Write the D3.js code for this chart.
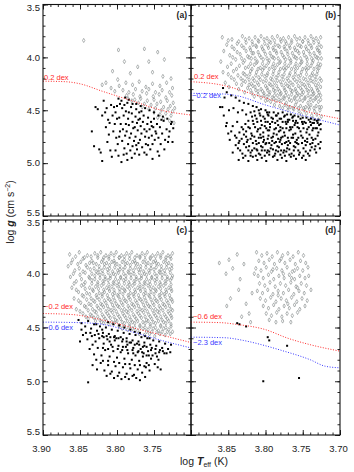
<!DOCTYPE html>
<html>
<head>
<meta charset="utf-8">
<script src="https://cdn.jsdelivr.net/npm/d3@7"></script>
<style>
body{margin:0;background:#fff}
text{font-family:"Liberation Sans",Arial,sans-serif}
</style>
</head>
<body>
<svg id="chart"></svg>
<script>
// stars: [a, b] means log Teff = 3 + a/1000, log g = b/100
const grayA = [[845,384],[798,393],[763,392],[745,395],[790,404],[757,404],[772,409],[736,402],[806,413],[782,415],[752,414],[738,418],[727,420],[815,424],[799,421],
[820,426],[808,429],[797,427],[788,424],[779,426],[770,423],[761,428],[752,425],[742,427],[733,424],[725,429],[803,432],[792,431],[784,433],[775,430],[766,432],[757,430],[748,433],[739,431],[729,433],[787,436],[778,435],[769,437],[760,434],[751,437],[743,435],[734,438],[726,436],
[785,439],[776,440],[768,439],[759,441],[750,440],[741,442],[732,441],[724,443],[780,441],[771,443],[763,444],[754,445],[746,444],[737,447],[728,446],[722,448],[766,447],[757,449],[748,448],[740,450],[731,449],[725,451],[750,452],[742,454],[734,453],[727,455],[745,457],[737,458],[729,460],[723,462]]
const blackA = [[834,470],[831,484],[824,487],[820,498],[829,447],[826,449],[818,441],[816,452],[812,459],[815,466],[811,473],[813,480],[809,488],[807,494],[810,462],[806,455],[804,447],[802,452],[800,446],[803,463],[805,470],[801,476],[799,482],[802,488],[798,493],[794,499],[796,444],[793,448],[797,457],[795,463],[791,455],[790,445],[788,451],[792,468],[789,474],[793,479],[790,486],[787,491],[786,443],[785,458],[784,464],[787,470],[783,476],[785,482],[782,488],[780,453],[781,447],[779,461],[778,467],[781,472],[777,479],[779,484],[776,491],[775,456],[774,449],[773,462],[772,469],[775,475],[771,481],[773,487],[770,452],[769,458],[768,465],[767,472],[769,478],[766,485],[765,461],[764,455],[763,468],[762,475],[760,470],[761,482],[759,463],[758,457],[757,476],[756,468],[755,487],[754,461],[753,474],[752,482],[751,466],[750,458],[749,478],[748,470],[746,463],[745,489],[744,476],[742,466],[741,482],[739,472],[737,460],[735,478],[733,468],[731,480],[729,470],[727,463],[725,480],
[798,439],[794,441],[789,438],[784,440],[779,444],[774,444],[768,446],[762,448],[756,450],[750,452],[744,455],[738,456],[732,458],[726,461],[808,445],[814,448],[820,455],[800,458],[796,470],[788,463],[784,452],[776,466],[771,459],[767,451],[763,490],[758,483],[753,465],[747,472],[740,459],[736,487],[730,475],[724,467],[822,490],[797,475],[791,492],[786,497],[780,495],[774,483],[770,492],[760,492],[752,496],[743,493]]

const grayB = [[858,381],[845,383],[831,380],[822,382],[814,381],[806,380],[798,382],[791,381],[784,380],[776,382],[769,381],[761,380],[754,382],[747,381],[739,380],[732,382],[726,381],
[852,388],[838,387],[826,386],[817,388],[809,385],[801,387],[793,386],[787,388],[779,385],[772,387],[765,386],[757,388],[750,385],[742,387],[735,386],[728,388],
[856,394],[842,392],[829,391],[820,393],[812,390],[804,392],[796,391],[789,393],[781,390],[774,392],[767,391],[760,393],[752,390],[745,392],[738,391],[730,393],[725,390],
[848,398],[834,397],[824,399],[816,396],[808,398],[800,397],[792,399],[785,396],[777,398],[770,397],[762,399],[755,396],[748,398],[740,397],[733,399],[727,396],
[860,404],[840,402],[828,403],[819,401],[811,404],[803,402],[795,403],[788,401],[780,404],[773,402],[766,403],[758,401],[751,404],[744,402],[736,403],[729,401],
[851,409],[835,408],[823,409],[815,407],[807,410],[799,408],[791,409],[784,407],[776,410],[769,408],[761,409],[754,407],[746,410],[739,408],[731,409],[726,407],
[857,414],[843,413],[830,415],[820,413],[812,414],[804,412],[797,415],[789,413],[782,414],[774,412],[767,415],[760,413],[752,414],[745,412],[737,415],[730,413],
[846,419],[833,420],[825,418],[817,420],[809,419],[801,418],[793,420],[786,419],[778,418],[771,420],[763,419],[756,418],[749,420],[741,419],[734,418],[727,420],
[854,424],[839,425],[827,423],[819,425],[811,424],[803,423],[795,425],[788,424],[780,423],[773,425],[766,424],[758,423],[751,425],[743,424],[736,423],[729,425],
[849,428],[836,430],[824,429],[814,428],[806,430],[798,429],[790,428],[783,430],[775,429],[768,428],[760,430],[753,429],[746,428],[738,430],[731,429],[726,428],
[828,433],[818,434],[810,432],[802,434],[794,433],[787,432],[779,434],[772,433],[764,432],[757,434],[749,433],[742,432],[735,434],[728,433],
[815,437],[806,438],[798,437],[791,438],[784,436],[776,438],[769,437],[761,438],[754,436],[747,438],[739,437],[732,438],[726,436],
[800,441],[793,442],[786,441],[779,441],[772,443],[765,441],[758,442],[750,441],[743,443],[736,441],[729,442],
[788,445],[781,446],[774,445],[767,447],[760,445],[753,446],[746,447],[739,445],[732,446],[725,447],
[770,450],[762,449],[755,451],[748,450],[741,449],[734,451],[727,450],[752,454],[745,453],[738,455],[731,454],[725,456],[736,458],[729,459],
[850,384],[836,385],[827,383],[818,385],[810,384],[802,383],[795,385],[788,384],[780,383],[773,385],[765,384],[758,383],[750,385],[743,384],[736,383],[729,385],
[845,390],[832,389],[821,391],[813,389],[805,390],[797,389],[790,391],[783,389],[775,390],[768,389],[761,391],[754,389],[746,390],[739,389],[731,391],
[838,395],[826,394],[818,396],[810,395],[802,394],[794,396],[786,394],[779,395],[771,394],[764,396],[757,394],[749,395],[742,394],[735,396],[728,394],
[844,400],[832,401],[822,400],[814,401],[806,400],[798,401],[790,400],[783,401],[775,400],[768,401],[760,400],[753,401],[745,400],[738,401],[731,400],[725,401],
[846,406],[830,405],[820,406],[812,405],[804,406],[796,405],[789,406],[781,405],[774,406],[766,405],[759,406],[752,405],[744,406],[737,405],[729,406],
[839,411],[827,410],[818,411],[810,411],[802,410],[795,411],[787,410],[780,411],[772,410],[765,411],[757,410],[750,411],[742,410],[735,411],[728,410],
[850,416],[837,417],[828,416],[821,416],[813,417],[805,416],[798,417],[790,416],[783,417],[775,416],[768,417],[760,416],[753,417],[745,416],[738,417],[731,416],
[842,421],[830,422],[822,421],[815,422],[807,421],[799,422],[791,421],[784,422],[776,421],[769,422],[761,421],[754,422],[746,421],[739,422],[732,421],[725,422],
[832,426],[822,426],[817,427],[809,426],[800,427],[793,426],[785,427],[778,426],[770,427],[763,426],[756,427],[748,426],[741,427],[733,426],
[820,431],[813,431],[804,432],[797,431],[789,431],[781,432],[774,431],[766,431],[759,432],[751,431],[744,431],[737,432],[730,431],
[810,435],[802,436],[795,435],[788,436],[780,435],[773,436],[765,435],[758,436],[751,435],[743,436],[736,435],[729,436],
[797,440],[789,439],[782,440],[775,439],[768,440],[761,439],[754,440],[747,439],[740,440],[733,439],[726,440],
[777,448],[770,447],[763,448],[756,448],[749,448],[742,447],[735,448],[728,447]]
const blackB = [[857,429],[852,433],[846,436],[840,438],[835,441],[829,443],[823,444],[817,446],[812,447],[806,449],[800,450],[795,452],
[858,447],[849,450],[843,448],[837,452],[831,450],[826,454],[820,452],[814,455],[808,453],[803,456],[797,454],[792,457],[786,455],[781,458],[775,456],[770,459],[764,457],[759,460],[753,458],[748,461],[742,459],[737,462],[731,460],[726,463],
[818,456],[812,458],[807,455],[801,458],[796,455],[790,458],[785,455],[779,458],[774,455],[768,459],[763,456],
[852,462],[844,465],[838,461],[832,466],[827,463],[821,467],[816,463],[810,468],[805,464],[799,467],[794,463],[788,468],[783,464],[777,467],[772,463],[766,468],[761,464],[755,467],[750,463],[744,468],[739,464],[733,467],[728,464],
[846,470],[835,471],[826,470],[819,472],[811,470],[803,471],[797,469],[789,472],[782,470],[775,471],[768,469],[760,472],[753,470],[745,471],[737,469],[729,471],
[848,478],[841,474],[835,479],[829,473],[824,478],[818,474],[813,479],[807,473],[802,478],[796,474],[791,479],[785,473],[780,478],[774,474],[769,479],[763,473],[758,478],[752,474],[747,479],[741,473],[736,478],[730,474],[726,480],
[840,483],[829,482],[822,484],[812,482],[806,484],[800,482],[792,483],[784,484],[778,482],[770,483],[762,484],[756,482],[746,483],[740,482],[733,484],
[844,490],[837,486],[831,491],[826,485],[820,490],[815,486],[809,491],[804,485],[798,490],[793,486],[787,491],[782,485],[776,490],[771,486],[765,491],[760,485],[754,490],[749,486],[743,491],[738,485],[732,490],[727,486],
[836,497],[830,495],[823,498],[817,494],[811,497],[805,495],[799,498],[790,494],[784,497],[778,495],[772,498],[766,494],[759,496],[751,495],[746,497],
[861,447],[856,455],[853,465],[850,472],[855,438],
[800,461],[794,466],[787,462],[780,466],[773,461],[767,466],[760,462],[806,476],[799,481],[792,476],[786,480],[779,476],[772,480],[765,476],[758,481],[812,487],[805,488],[797,488],[790,487],[783,489],[775,488],[768,487],
[815,451],[809,450],[798,452],[789,452],[783,453],[777,452],[771,454],[766,454],[761,455],[756,456],[750,457],[745,457],[739,458],[734,459],[729,459],
[823,460],[817,460],[811,461],[806,460],[797,461],[791,461],[784,460],[777,461],[770,461],[763,460],[757,462],[751,461],[746,462],[740,461],[735,462],[730,462],
[830,468],[823,466],[814,466],[807,467],[801,465],[795,469],[786,467],[780,469],[772,467],[764,466],[757,466],[749,467],[742,466],[736,467],[731,467],[726,468],
[839,476],[832,477],[826,475],[820,477],[815,475],[809,476],[803,475],[797,477],[790,475],[783,477],[777,475],[770,476],[763,476],[756,476],[750,476],[744,477],[738,476],[733,477],
[836,481],[825,480],[817,481],[809,481],[803,480],[795,481],[788,481],[781,480],[774,481],[767,481],[760,480],[751,481],[744,480],[737,481],[729,482],
[834,488],[823,488],[818,488],[811,488],[801,488],[795,489],[786,488],[779,488],[772,489],[762,488],[756,488],[746,489],[740,488],[734,487],
[827,493],[820,493],[813,493],[807,492],[801,493],[795,492],[788,493],[780,492],[774,493],[768,492],[762,493],[755,492],[749,493],[741,493]]

const grayC = [[864,382],[851,380],[840,383],[830,381],[822,380],[815,383],[808,381],[801,380],[794,383],[787,381],[780,380],[773,383],[766,381],[759,380],[752,383],[745,381],[738,380],[731,383],[725,381],
[860,387],[846,386],[834,388],[826,385],[819,387],[811,386],[804,388],[797,385],[790,387],[783,386],[776,388],[769,385],[762,387],[755,386],[748,388],[741,385],[734,387],[727,386],
[866,393],[853,391],[842,392],[832,390],[824,393],[817,391],[810,392],[803,390],[796,393],[789,391],[782,392],[775,390],[768,393],[761,391],[754,392],[747,390],[740,393],[733,391],[726,392],
[857,397],[846,398],[836,396],[828,398],[820,397],[813,396],[806,398],[799,397],[792,396],[785,398],[778,397],[771,396],[764,398],[757,397],[750,396],[743,398],[736,397],[729,396],
[863,403],[850,401],[838,403],[830,402],[823,401],[816,403],[809,402],[802,401],[795,403],[788,402],[781,401],[774,403],[767,402],[760,401],[753,403],[746,402],[739,401],[732,403],[725,402],
[855,407],[843,408],[834,406],[826,408],[819,407],[812,406],[805,408],[798,407],[791,406],[784,408],[777,407],[770,406],[763,408],[756,407],[749,406],[742,408],[735,407],[728,406],
[861,413],[848,411],[837,413],[829,412],[821,411],[814,413],[807,412],[800,411],[793,413],[786,412],[779,411],[772,413],[765,412],[758,411],[751,413],[744,412],[737,411],[730,413],
[852,417],[841,418],[832,416],[824,418],[817,417],[810,416],[803,418],[796,417],[789,416],[782,418],[775,417],[768,416],[761,418],[754,417],[747,416],[740,418],[733,417],[726,416],
[858,423],[845,421],[835,423],[827,422],[820,421],[812,423],[805,422],[798,421],[791,423],[784,422],[777,421],[770,423],[763,422],[756,421],[749,423],[742,422],[735,421],[728,423],
[849,427],[838,428],[830,426],[822,428],[815,427],[808,426],[801,428],[794,427],[787,426],[780,428],[773,427],[766,426],[759,428],[752,427],[745,426],[738,428],[731,427],[725,426],
[855,433],[842,431],[833,433],[825,432],[818,431],[811,433],[804,432],[797,431],[790,433],[783,432],[776,431],[769,433],[762,432],[755,431],[748,433],[741,432],[734,431],[727,433],
[846,437],[836,438],[828,436],[820,438],[813,437],[806,436],[799,438],[792,437],[785,436],[778,438],[771,437],[764,436],[757,438],[750,437],[743,436],[736,438],[729,437],
[839,442],[831,441],[823,443],[816,442],[809,441],[802,443],[795,442],[788,441],[781,443],[774,442],[767,441],[760,443],[753,442],[746,441],[739,443],[732,442],[726,441],
[818,446],[811,447],[804,446],[797,448],[790,446],[783,447],[776,446],[769,448],[762,446],[755,447],[748,446],[741,448],[734,446],[727,447],
[793,451],[786,452],[779,451],[772,453],[765,451],[758,452],[751,451],[744,453],[737,451],[730,452],[770,456],[763,457],[756,456],[749,458],[742,456],[735,457],[728,456],
[856,384],[844,385],[835,384],[826,383],[818,385],[811,384],[804,383],[797,385],[790,384],[783,383],[776,385],[769,384],[762,383],[755,385],[748,384],[741,383],[734,385],[728,384],
[862,390],[849,389],[837,390],[828,391],[821,389],[814,390],[807,389],[800,391],[793,389],[786,390],[779,389],[772,391],[765,389],[758,390],[751,389],[744,391],[737,389],[730,390],
[851,395],[840,394],[831,395],[824,396],[817,394],[810,395],[803,394],[796,396],[789,394],[782,395],[775,394],[768,396],[761,394],[754,395],[747,394],[740,396],[733,394],[726,395],
[859,400],[843,399],[834,400],[826,399],[819,400],[812,399],[805,400],[798,399],[791,400],[784,399],[777,400],[770,399],[763,400],[756,399],[749,400],[742,399],[735,400],[728,399],
[848,405],[837,404],[830,405],[823,404],[816,405],[809,404],[802,405],[795,404],[788,405],[781,404],[774,405],[767,404],[760,405],[753,404],[746,405],[739,404],[732,405],[726,404],
[858,409],[845,410],[834,409],[826,410],[818,409],[811,410],[804,409],[797,410],[790,409],[783,410],[776,409],[769,410],[762,409],[755,410],[748,409],[741,410],[734,409],[727,410],
[855,415],[843,414],[833,415],[825,414],[818,415],[811,414],[804,415],[797,414],[790,415],[783,414],[776,415],[769,414],[762,415],[755,414],[748,415],[741,414],[734,415],[727,414],
[847,420],[837,419],[828,420],[820,419],[813,420],[806,419],[799,420],[792,419],[785,420],[778,419],[771,420],[764,419],[757,420],[750,419],[743,420],[736,419],[729,420],
[852,425],[841,424],[832,425],[824,424],[817,425],[810,424],[803,425],[796,424],[789,425],[782,424],[775,425],[768,424],[761,425],[754,424],[747,425],[740,424],[733,425],[726,424],
[844,430],[835,429],[827,430],[820,429],[813,430],[806,429],[799,430],[792,429],[785,430],[778,429],[771,430],[764,429],[757,430],[750,429],[743,430],[736,429],[729,430],
[850,435],[839,434],[830,435],[822,434],[815,435],[808,434],[801,435],[794,434],[787,435],[780,434],[773,435],[766,434],[759,435],[752,434],[745,435],[738,434],[731,435],[725,434],
[842,440],[834,439],[826,440],[818,440],[811,439],[804,440],[797,440],[790,439],[783,440],[776,440],[769,439],[762,440],[755,440],[748,439],[741,440],[734,440],[727,439],
[829,444],[821,445],[814,444],[807,445],[800,444],[793,445],[786,444],[779,445],[772,444],[765,445],[758,444],[751,445],[744,444],[737,445],[730,444],
[797,449],[790,449],[783,449],[776,450],[769,449],[762,450],[755,449],[748,450],[741,449],[734,450],[727,449],[760,454],[753,454],[746,454],[739,454],[732,454],[725,454]]
const blackC = [[852,443],[848,446],[843,449],[839,444],[835,451],[831,447],[827,453],[823,449],[819,455],[815,450],[811,456],[807,452],[803,458],[799,453],[795,459],[791,455],[787,460],[783,456],[779,462],[775,457],[771,463],[767,459],[763,464],[759,460],[755,466],[751,462],[747,467],[743,463],[739,469],[735,465],[731,470],[727,466],
[846,457],[840,461],[834,458],[829,463],[824,460],[818,465],[813,461],[808,466],[803,462],[798,467],[793,463],[788,468],[783,464],[778,469],[773,465],[768,470],[763,467],[758,472],[753,469],[748,474],[742,471],[736,474],
[850,463],[837,470],[831,475],[826,469],[821,476],[816,471],[810,477],[805,472],[800,478],[795,473],[790,479],[785,474],[780,480],[775,476],[770,481],[765,477],[760,483],[754,479],[749,484],[744,480],
[833,485],[827,489],[822,483],[817,490],[812,485],[807,491],[802,486],[797,492],[792,487],[787,493],[782,488],[777,494],[772,489],[766,492],[761,487],[756,490],[745,487],[741,489],
[814,495],[809,493],[804,497],[799,495],[794,498],[789,496],[784,498],[779,495],[774,497],[769,499],[839,501],[762,496],
[820,452],[812,445],[805,447],[797,448],[790,450],[782,452],[776,454],[769,455],[762,458],[756,460],[828,447],[818,459],[810,463],[801,460],[793,471],[786,466],[778,474],[771,472],[764,474],[757,476],
[848,452],[842,455],[836,455],[830,457],[825,456],[820,458],[814,458],[809,459],[804,459],[798,460],[792,461],[787,463],[781,464],[776,466],[770,466],[765,468],[760,468],[754,471],[748,470],[743,473],[738,472],[733,474],[728,473],
[833,466],[819,469],[812,470],[806,468],[799,470],[792,468],[786,471],[779,471],[772,473],[766,473],[760,476],[752,476],[746,477],
[828,480],[819,481],[812,481],[804,482],[797,483],[789,484],[783,484],[776,485],[769,485],[763,486],[757,485]]

const grayD = [[862,390],[853,400],[849,387],[844,395],[838,382],[836,415],[847,423],[834,405],[829,391],[826,428],[832,440],[822,437],[820,445],[818,418],[815,400],[852,430],
[812,380],[805,383],[798,381],[791,384],[784,380],[777,383],[770,381],[763,384],[756,380],[749,383],
[809,388],[802,390],[795,387],[788,391],[781,388],[774,390],[767,387],[760,391],[753,388],[746,390],
[813,395],[806,397],[799,394],[792,398],[785,395],[778,397],[771,394],[764,398],[757,395],[750,397],[743,394],
[810,402],[803,404],[796,401],[789,405],[782,402],[775,404],[768,401],[761,405],[754,402],[747,404],
[808,409],[801,411],[794,408],[787,412],[780,409],[773,411],[766,408],[759,412],[752,409],[745,411],
[811,416],[804,418],[797,415],[790,419],[783,416],[776,418],[769,415],[762,419],[755,416],[748,418],
[807,423],[800,425],[793,422],[786,426],[779,423],[772,425],[765,422],[758,426],[751,423],
[803,430],[796,432],[789,429],[782,433],[775,430],[768,432],[761,429],[754,433],[747,430],
[799,437],[792,439],[785,436],[778,440],[771,437],[764,439],[757,436],
[795,443],[786,445],[777,444],[766,445],[742,402],[739,415],[744,425],[790,396],[776,400],[765,404],[783,420],[770,428],[757,413],[761,397],[779,386]]
const blackD = [[838,446],[835,447],[826,449],[797,459],[795,462],[771,467],[803,500],[755,497]]

// dotted model curves, [log Teff, log g]
const redA = [[3.90,4.225],[3.87,4.23],[3.85,4.25],[3.82,4.32],[3.78,4.41],[3.74,4.50],[3.70,4.545]]
const redB = [[3.90,4.23],[3.86,4.26],[3.82,4.34],[3.78,4.43],[3.74,4.52],[3.70,4.58]]
const blueB = [[3.90,4.34],[3.86,4.345],[3.84,4.36],[3.80,4.45],[3.76,4.53],[3.70,4.64]]
const redC = [[3.90,4.37],[3.86,4.38],[3.82,4.43],[3.78,4.50],[3.74,4.57],[3.70,4.64]]
const blueC = [[3.90,4.45],[3.85,4.455],[3.82,4.47],[3.78,4.54],[3.74,4.62],[3.70,4.69]]
const redD = [[3.90,4.45],[3.86,4.455],[3.84,4.47],[3.80,4.52],[3.77,4.60],[3.74,4.66],[3.70,4.72]]
const blueD = [[3.90,4.59],[3.855,4.595],[3.83,4.62],[3.80,4.67],[3.78,4.71],[3.74,4.80],[3.72,4.86],[3.70,4.875]]

const xTickLeft = [3.90,3.85,3.80,3.75]
const xTickRight = [3.85,3.80,3.75,3.70]
const yTicks = [3.5,4.0,4.5,5.0,5.5]

const w = 354, h = 472
const svg = d3.select("#chart").attr("width", w).attr("height", h)

const xL = 43, xM = 191, xR = 340
const panels = [
  {tag:"(a)", x0:xL, x1:xM, y0:4.5, y1:216, gray:grayA, black:blackA, yLab:true, xLab:null,
   curves:[{d:redA, c:"#ff2a2a", t:"0.2 dex", tx:44, ty:79.5}]},
  {tag:"(b)", x0:xM, x1:xR, y0:4.5, y1:216, gray:grayB, black:blackB, yLab:false, xLab:null,
   curves:[{d:redB, c:"#ff2a2a", t:"0.2 dex", tx:194, ty:79}, {d:blueB, c:"#3a3aff", t:"\u22120.2 dex", tx:192, ty:98}]},
  {tag:"(c)", x0:xL, x1:xM, y0:220, y1:435, gray:grayC, black:blackC, yLab:true, xLab:xTickLeft,
   curves:[{d:redC, c:"#ff2a2a", t:"\u22120.2 dex", tx:44, ty:309}, {d:blueC, c:"#3a3aff", t:"\u22120.6 dex", tx:44, ty:330}]},
  {tag:"(d)", x0:xM, x1:xR, y0:220, y1:435, gray:grayD, black:blackD, yLab:false, xLab:xTickRight,
   curves:[{d:redD, c:"#ff2a2a", t:"\u22120.6 dex", tx:193, ty:319}, {d:blueD, c:"#3a3aff", t:"\u22122.3 dex", tx:193, ty:345}]}
]

const diamond = d3.symbol().type(d3.symbolDiamond).size(5)

panels.forEach((p, i) => {
  const x = d3.scaleLinear().domain([3.90, 3.70]).range([p.x0, p.x1])
  const y = d3.scaleLinear().domain([3.5, 5.5]).range([p.y0, p.y1])
  const g = svg.append("g")

  g.append("clipPath").attr("id", "clip" + i).append("rect")
    .attr("x", p.x0).attr("y", p.y0).attr("width", p.x1 - p.x0).attr("height", p.y1 - p.y0)
  const plot = g.append("g").attr("clip-path", "url(#clip" + i + ")")

  // gray open diamonds
  plot.selectAll("path.gray").data(p.gray).enter().append("path")
    .attr("class", "gray")
    .attr("d", diamond)
    .attr("transform", d => "translate(" + x(3 + d[0] / 1000) + "," + y(d[1] / 100) + ")")
    .attr("fill", "none").attr("stroke", "#8e9494").attr("stroke-width", 0.7)

  // black dots
  plot.selectAll("rect.blk").data(p.black).enter().append("rect")
    .attr("class", "blk")
    .attr("x", d => x(3 + d[0] / 1000) - 1).attr("y", d => y(d[1] / 100) - 1)
    .attr("width", 2).attr("height", 2).attr("fill", "#000")

  const line = d3.line().x(d => x(d[0])).y(d => y(d[1])).curve(d3.curveMonotoneX)
  p.curves.forEach(c => {
    plot.append("path").attr("d", line(c.d)).attr("fill", "none")
      .attr("stroke", c.c).attr("stroke-width", 1).attr("stroke-dasharray", "1,1.6")
    g.append("text").attr("x", c.tx).attr("y", c.ty).attr("fill", c.c)
      .attr("font-size", "7.5px").text(c.t)
  })

  // ticks on all four sides, pointing inwards
  const minorX = d3.range(3.70, 3.9001, 0.01)
  const majorX = d3.range(3.70, 3.9001, 0.05)
  const minorY = d3.range(3.5, 5.5001, 0.1)
  const majorY = d3.range(3.5, 5.5001, 0.5)
  const tk = (axis, vals, size, tr) => g.append("g").attr("transform", tr)
    .call(axis.tickValues(vals).tickSize(-size).tickFormat(""))
    .call(s => s.select(".domain").remove())
  ;[[minorX, 2.5], [majorX, 5]].forEach(([v, s]) => {
    tk(d3.axisBottom(x), v, s, "translate(0," + p.y1 + ")")
    tk(d3.axisTop(x), v, s, "translate(0," + p.y0 + ")")
  })
  ;[[minorY, 2.5], [majorY, 5]].forEach(([v, s]) => {
    tk(d3.axisLeft(y), v, s, "translate(" + p.x0 + ",0)")
    tk(d3.axisRight(y), v, s, "translate(" + p.x1 + ",0)")
  })
  g.selectAll(".tick line").attr("stroke", "#111").attr("stroke-width", 0.9)

  g.append("rect").attr("x", p.x0).attr("y", p.y0).attr("width", p.x1 - p.x0).attr("height", p.y1 - p.y0)
    .attr("fill", "none").attr("stroke", "#111").attr("stroke-width", 1.1)

  if (p.yLab) {
    // labels at the panel ends are kept inside the frame height, as in the figure
    g.selectAll("text.ylab").data(yTicks).enter().append("text").attr("class", "ylab")
      .attr("x", p.x0 - 3)
      .attr("y", d => Math.min(Math.max(y(d), p.y0 + 3), p.y1 - 3.5) + 3.3)
      .attr("text-anchor", "end")
      .attr("font-size", "9.5px").attr("fill", "#222").text(d => d.toFixed(1))
  }
  if (p.xLab) {
    g.selectAll("text.xlab").data(p.xLab).enter().append("text").attr("class", "xlab")
      .attr("x", d => x(d) - 1.5).attr("y", p.y1 + 17).attr("text-anchor", "middle")
      .attr("font-size", "9.5px").attr("fill", "#222").text(d => d.toFixed(2))
  }

  g.append("text").attr("x", p.x1 - 4).attr("y", p.y0 + 13).attr("text-anchor", "end")
    .attr("font-size", "8.5px").attr("font-weight", "bold").attr("fill", "#222").text(p.tag)
})

// axis titles
const yt = svg.append("text").attr("transform", "translate(14,212) rotate(-90)")
  .attr("text-anchor", "middle").attr("font-size", "10.5px").attr("fill", "#222")
yt.append("tspan").text("log ")
yt.append("tspan").attr("font-style", "italic").attr("font-weight", "bold").text("g")
yt.append("tspan").text(" (cm s")
yt.append("tspan").attr("font-size", "7px").attr("dy", -4).text("\u22122")
yt.append("tspan").attr("dy", 4).text(")")

const xt = svg.append("text").attr("x", 204).attr("y", 465)
  .attr("text-anchor", "middle").attr("font-size", "10.5px").attr("fill", "#222")
xt.append("tspan").text("log  ")
xt.append("tspan").attr("font-style", "italic").attr("font-weight", "bold").text("T")
xt.append("tspan").attr("font-size", "7px").attr("dy", 2).text("eff")
xt.append("tspan").attr("dy", -2).text("  (K)")
</script>
</body>
</html>
